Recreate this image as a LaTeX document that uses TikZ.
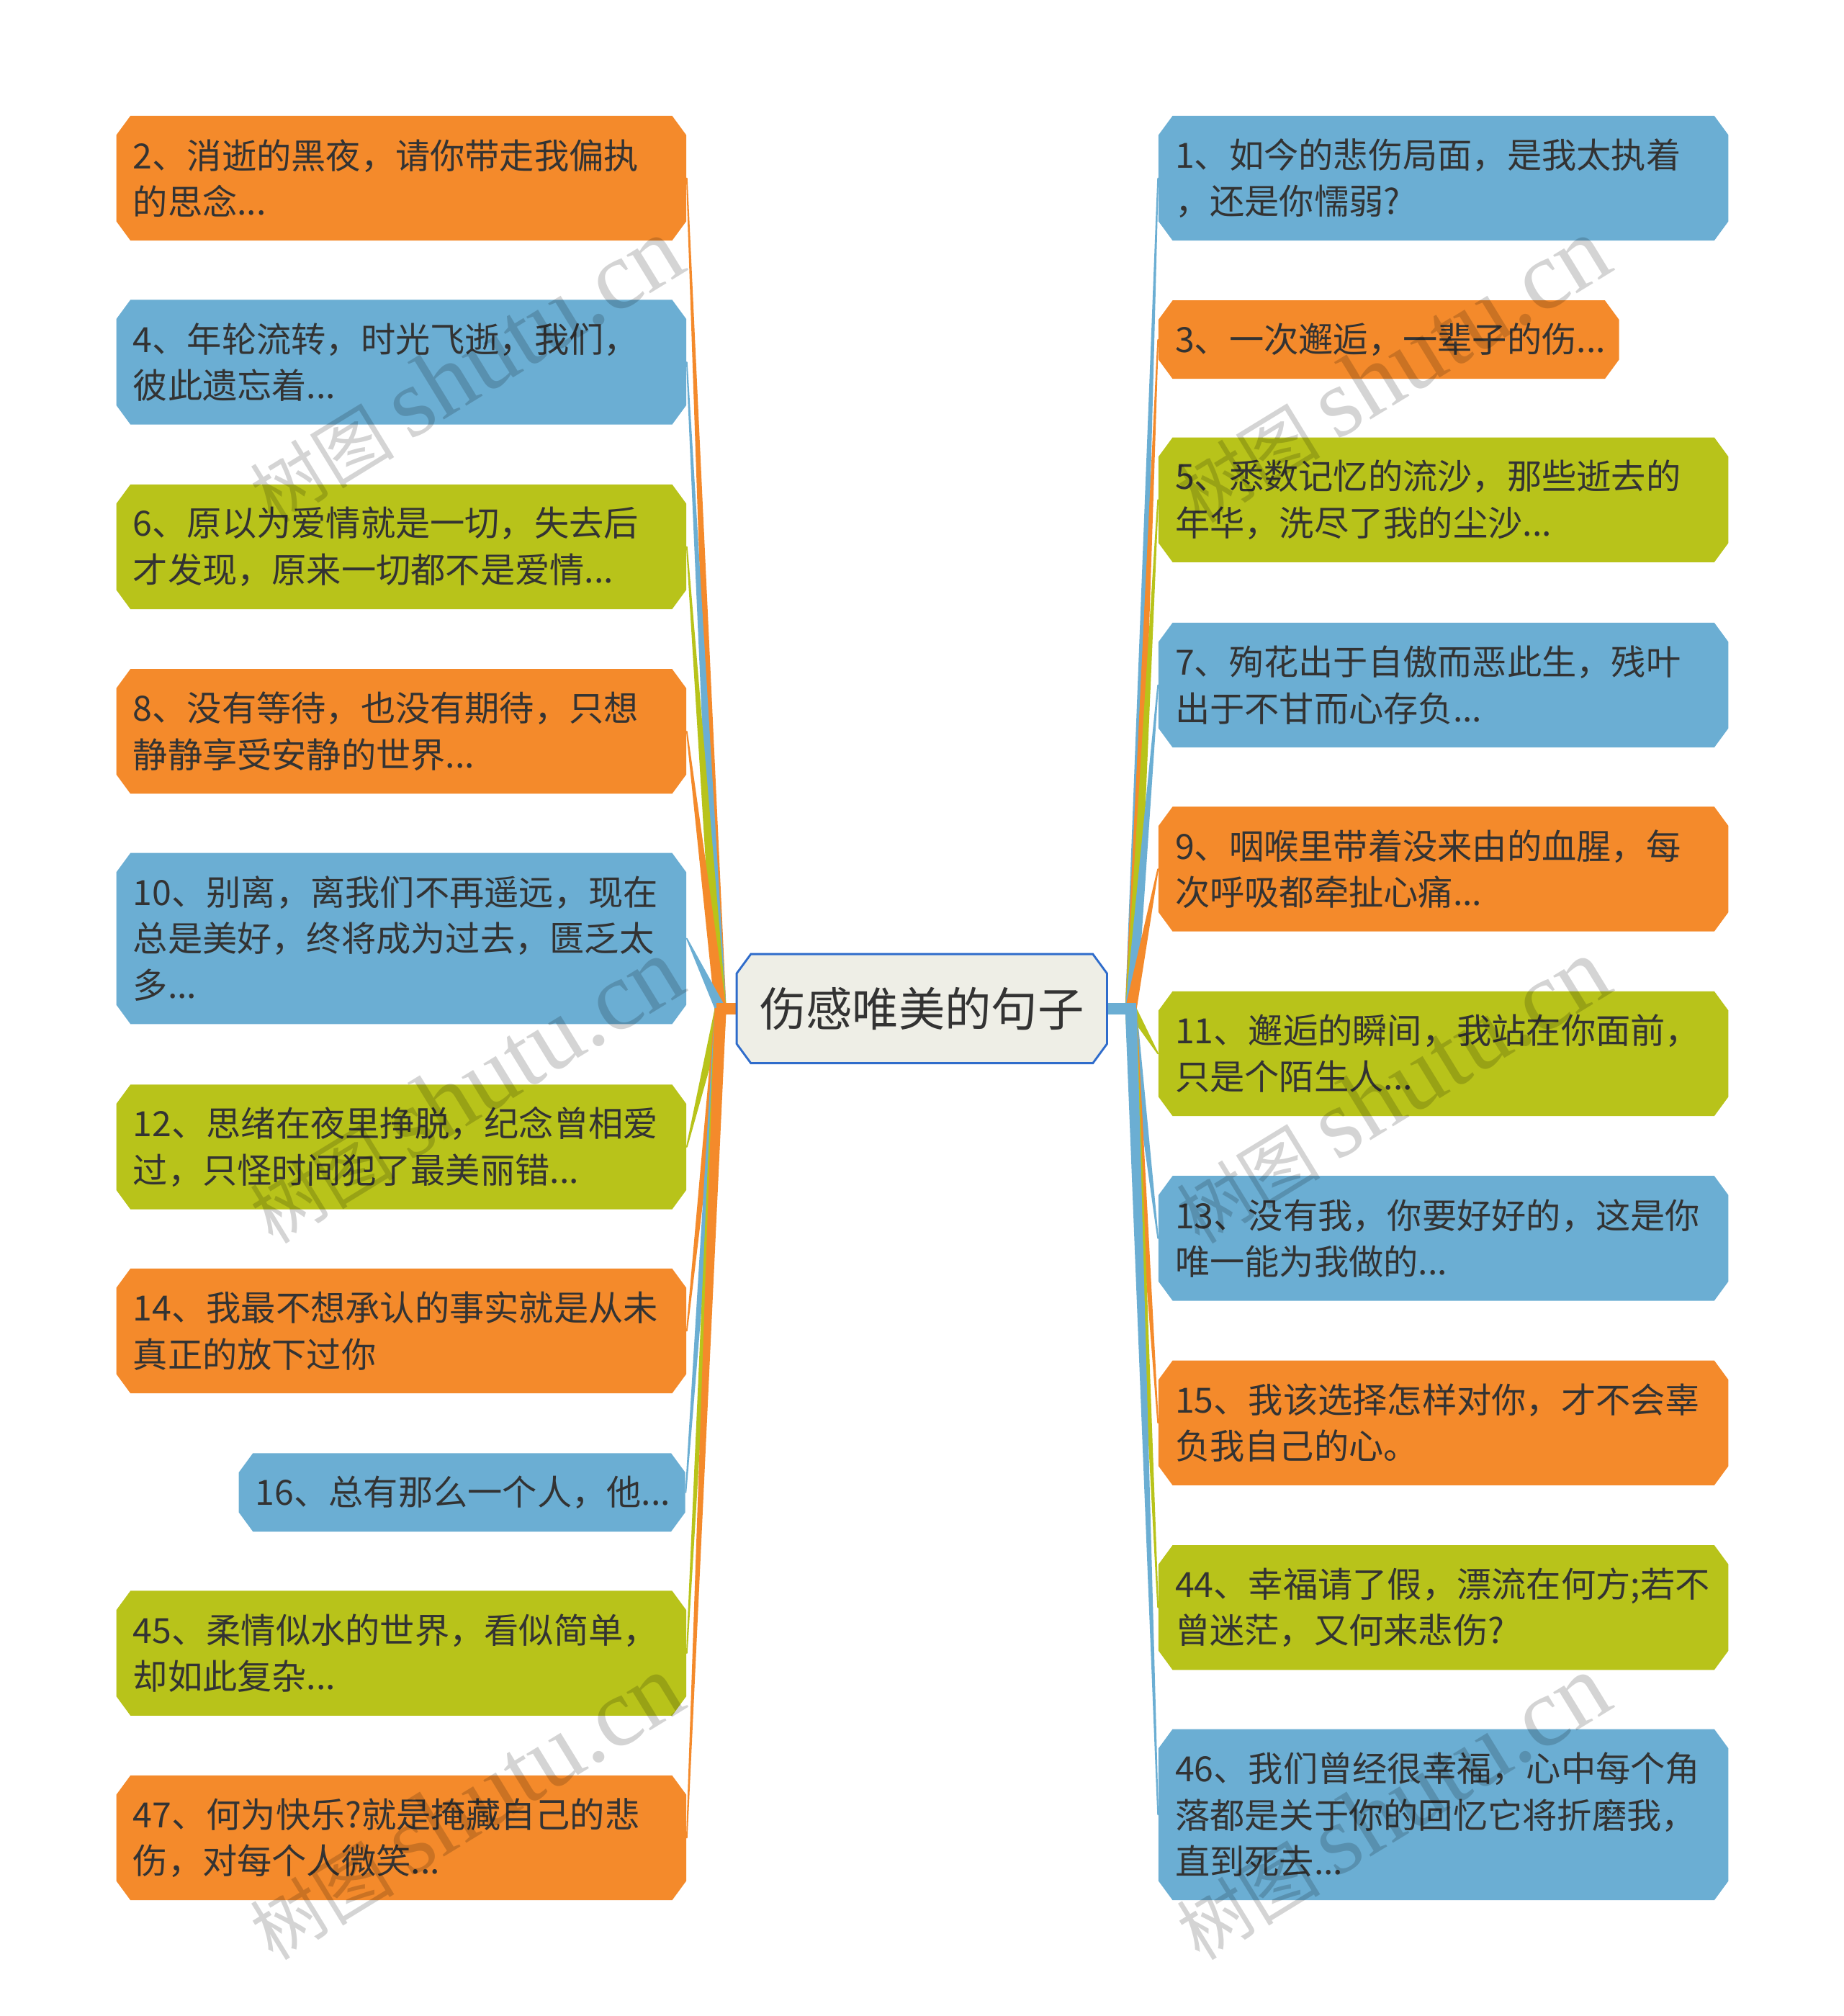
\documentclass[tikz,border=0pt]{standalone}
\usepackage{fontspec}
\newfontfamily\cjk{Noto Sans CJK SC}
\newfontfamily\wmlat{Liberation Serif}
\usetikzlibrary{calc,backgrounds}
\definecolor{cO}{HTML}{F48A2B}
\definecolor{cB}{HTML}{6BAED3}
\definecolor{cG}{HTML}{B8C31A}
\definecolor{cfill}{HTML}{EEEEE6}
\definecolor{cborder}{HTML}{2F6CCB}
\definecolor{txt}{HTML}{333333}
\newcommand\chamfill[1]{\fill[#1] ([xshift=5.5pt]path picture bounding box.north west) -- ([xshift=-5.5pt]path picture bounding box.north east) -- ([yshift=-7.5pt]path picture bounding box.north east) -- ([yshift=7.5pt]path picture bounding box.south east) -- ([xshift=-5.5pt]path picture bounding box.south east) -- ([xshift=5.5pt]path picture bounding box.south west) -- ([yshift=7.5pt]path picture bounding box.south west) -- ([yshift=-7.5pt]path picture bounding box.north west) -- cycle;}
\begin{document}
\begin{tikzpicture}[x=0.5pt,y=-0.5pt,
  mbox/.style={rectangle, inner xsep=6.5pt, inner ysep=0pt, text width=208.5pt, align=left,
    font=\cjk\fontsize{13.5}{18}\selectfont, text=txt, path picture={\chamfill{#1}}},
  one/.style={minimum height=30.5pt},
  two/.style={minimum height=48.5pt},
  three/.style={minimum height=66.5pt},
  lft/.style={anchor=west},
  wedge/.style={line width=0.5pt, line join=round},
  cbox/.style={rectangle, minimum width=143.5pt, minimum height=42pt, inner sep=0pt,
    font=\cjk\fontsize{18}{22}\selectfont, text=txt},
  wm/.style={text=black, text opacity=0.17, inner sep=0pt, rotate=31.5}
]
\useasboundingbox (0,0) rectangle (1433,1567);
% center
\node[cbox] (c) at (716.5,784) {伤感唯美的句子};
\coordinate (L) at (560,784);
\coordinate (R) at (879,784);
% left nodes
\node[mbox=cO, two, lft] (n2) at (90,138.5) {2、消逝的黑夜，请你带走我偏执\\的思念...};
\node[mbox=cB, two, lft] (n4) at (90,281.5) {4、年轮流转，时光飞逝，我们，\\彼此遗忘着...};
\node[mbox=cG, two, lft] (n6) at (90,425) {6、原以为爱情就是一切，失去后\\才发现，原来一切都不是爱情...};
\node[mbox=cO, two, lft] (n8) at (90,568.5) {8、没有等待，也没有期待，只想\\静静享受安静的世界...};
\node[mbox=cB, three, lft] (n10) at (90,729.5) {10、别离，离我们不再遥远，现在\\总是美好，终将成为过去，匮乏太\\多...};
\node[mbox=cG, two, lft] (n12) at (90,891.5) {12、思绪在夜里挣脱，纪念曾相爱\\过，只怪时间犯了最美丽错...};
\node[mbox=cO, two, lft] (n14) at (90,1034.5) {14、我最不想承认的事实就是从未\\真正的放下过你};
\node[mbox=cB, one, anchor=east, text width=160.5pt] (n16) at (533,1160) {16、总有那么一个人，他...};
\node[mbox=cG, two, lft] (n45) at (90,1285) {45、柔情似水的世界，看似简单，\\却如此复杂...};
\node[mbox=cO, two, lft] (n47) at (90,1428.5) {47、何为快乐?就是掩藏自己的悲\\伤，对每个人微笑...};
% right nodes
\node[mbox=cB, two, lft] (n1) at (900,138.5) {1、如今的悲伤局面，是我太执着\\，还是你懦弱?};
\node[mbox=cO, one, lft, text width=166pt] (n3) at (900,264) {3、一次邂逅，一辈子的伤...};
\node[mbox=cG, two, lft] (n5) at (900,388.5) {5、悉数记忆的流沙，那些逝去的\\年华，洗尽了我的尘沙...};
\node[mbox=cB, two, lft] (n7) at (900,532.5) {7、殉花出于自傲而恶此生，残叶\\出于不甘而心存负...};
\node[mbox=cO, two, lft] (n9) at (900,675.5) {9、咽喉里带着没来由的血腥，每\\次呼吸都牵扯心痛...};
\node[mbox=cG, two, lft] (n11) at (900,819) {11、邂逅的瞬间，我站在你面前，\\只是个陌生人...};
\node[mbox=cB, two, lft] (n13) at (900,962.5) {13、没有我，你要好好的，这是你\\唯一能为我做的...};
\node[mbox=cO, two, lft] (n15) at (900,1106) {15、我该选择怎样对你，才不会辜\\负我自己的心。};
\node[mbox=cG, two, lft] (n44) at (900,1249.5) {44、幸福请了假，漂流在何方;若不\\曾迷茫，又何来悲伤?};
\node[mbox=cB, three, lft] (n46) at (900,1410.5) {46、我们曾经很幸福，心中每个角\\落都是关于你的回忆它将折磨我，\\直到死去...};
\begin{scope}[on background layer]
\fill[white] (0,0) rectangle (1433,1567);
% left wedges
\filldraw[wedge, cO] ($(L)+(-4,0)$) -- (n2.east) -- ($(L)+(4,0)$) -- cycle;
\filldraw[wedge, cB] ($(L)+(-4,0)$) -- (n4.east) -- ($(L)+(4,0)$) -- cycle;
\filldraw[wedge, cG] ($(L)+(-4,0)$) -- (n6.east) -- ($(L)+(4,0)$) -- cycle;
\filldraw[wedge, cO] ($(L)+(-4,0)$) -- (n8.east) -- ($(L)+(4,0)$) -- cycle;
\filldraw[wedge, cB] ($(L)+(-4,0)$) -- (n10.east) -- ($(L)+(4,0)$) -- cycle;
\filldraw[wedge, cG] ($(L)+(-4,0)$) -- (n12.east) -- ($(L)+(4,0)$) -- cycle;
\filldraw[wedge, cO] ($(L)+(-4,0)$) -- (n14.east) -- ($(L)+(4,0)$) -- cycle;
\filldraw[wedge, cB] ($(L)+(-4,0)$) -- (n16.east) -- ($(L)+(4,0)$) -- cycle;
\filldraw[wedge, cG] ($(L)+(-4,0)$) -- (n45.east) -- ($(L)+(4,0)$) -- cycle;
\filldraw[wedge, cO] ($(L)+(-4,0)$) -- (n47.east) -- ($(L)+(4,0)$) -- cycle;
% right wedges
\filldraw[wedge, cB] ($(R)+(-4,0)$) -- (n1.west) -- ($(R)+(4,0)$) -- cycle;
\filldraw[wedge, cO] ($(R)+(-4,0)$) -- (n3.west) -- ($(R)+(4,0)$) -- cycle;
\filldraw[wedge, cG] ($(R)+(-4,0)$) -- (n5.west) -- ($(R)+(4,0)$) -- cycle;
\filldraw[wedge, cB] ($(R)+(-4,0)$) -- (n7.west) -- ($(R)+(4,0)$) -- cycle;
\filldraw[wedge, cO] ($(R)+(-4,0)$) -- (n9.west) -- ($(R)+(4,0)$) -- cycle;
\filldraw[wedge, cG] ($(R)+(-4,0)$) -- (n11.west) -- ($(R)+(4,0)$) -- cycle;
\filldraw[wedge, cB] ($(R)+(-4,0)$) -- (n13.west) -- ($(R)+(4,0)$) -- cycle;
\filldraw[wedge, cO] ($(R)+(-4,0)$) -- (n15.west) -- ($(R)+(4,0)$) -- cycle;
\filldraw[wedge, cG] ($(R)+(-4,0)$) -- (n44.west) -- ($(R)+(4,0)$) -- cycle;
\filldraw[wedge, cB] ($(R)+(-4,0)$) -- (n46.west) -- ($(R)+(4,0)$) -- cycle;
% stubs
\fill[cO] ($(c.west)+(2,-4.5)$) rectangle ($(L)+(-3,4.5)$);
\fill[cB] ($(c.east)+(-2,-4.5)$) rectangle ($(R)+(4,4.5)$);
% center shape
\filldraw[fill=cfill, draw=cborder, line width=0.8pt]
  ([xshift=5.5pt]c.north west) -- ([xshift=-5.5pt]c.north east) -- ([yshift=-7.5pt]c.north east)
  -- ([yshift=7.5pt]c.south east) -- ([xshift=-5.5pt]c.south east) -- ([xshift=5.5pt]c.south west)
  -- ([yshift=7.5pt]c.south west) -- ([yshift=-7.5pt]c.north west) -- cycle;
\end{scope}
% watermarks
\node[wm] (w1) at (362,288) {\cjk\fontsize{28}{28}\selectfont 树图 \wmlat\fontsize{38}{38}\selectfont shutu.cn};
\node[wm] (w2) at (1082,288) {\cjk\fontsize{28}{28}\selectfont 树图 \wmlat\fontsize{38}{38}\selectfont shutu.cn};
\node[wm] (w3) at (362,848) {\cjk\fontsize{28}{28}\selectfont 树图 \wmlat\fontsize{38}{38}\selectfont shutu.cn};
\node[wm] (w4) at (1082,848) {\cjk\fontsize{28}{28}\selectfont 树图 \wmlat\fontsize{38}{38}\selectfont shutu.cn};
\node[wm] (w5) at (362,1405) {\cjk\fontsize{28}{28}\selectfont 树图 \wmlat\fontsize{38}{38}\selectfont shutu.cn};
\node[wm] (w6) at (1082,1405) {\cjk\fontsize{28}{28}\selectfont 树图 \wmlat\fontsize{38}{38}\selectfont shutu.cn};
\end{tikzpicture}
\end{document}
